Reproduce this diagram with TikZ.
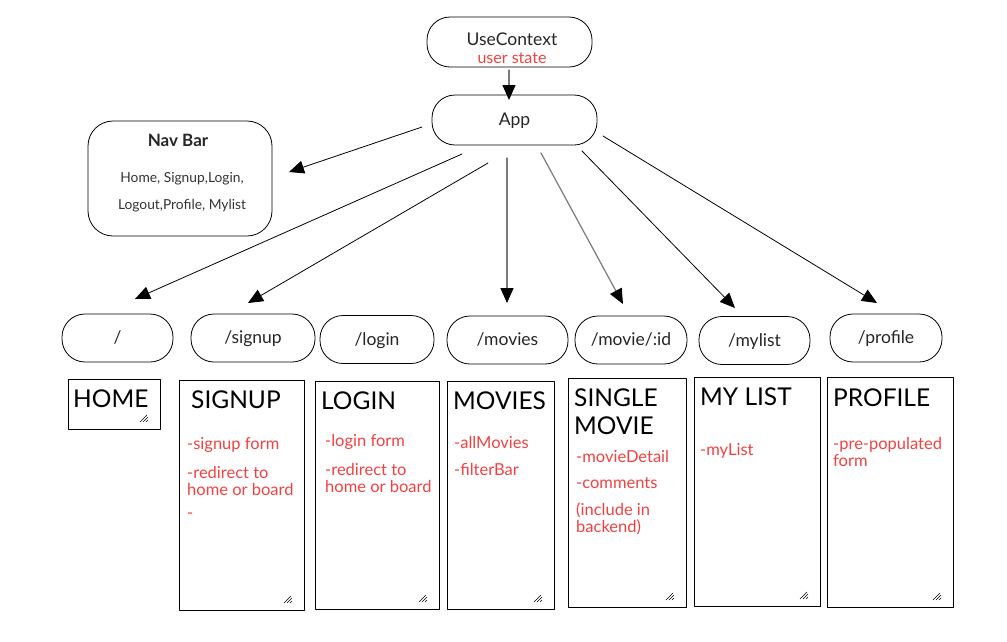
\documentclass[tikz,border=0pt]{standalone}
\usepackage{fontspec}
\setmainfont{Lato}
\usetikzlibrary{arrows.meta,positioning}
\definecolor{notered}{HTML}{F24141}
\definecolor{linkgray}{HTML}{7A7A7A}
\tikzset{
  pill/.style={draw,line width=0.8pt,rounded corners=23pt,minimum height=48pt,
    font=\fontsize{17.5}{19}\selectfont,text=black!85,text depth=1.5pt},
  page/.style={draw,line width=1pt,anchor=north west,inner sep=0pt},
  title/.style={anchor=west,inner sep=0pt,align=left,font=\fontsize{24.5}{28}\selectfont},
  note/.style={anchor=west,inner sep=0pt,align=left,text=notered,font=\fontsize{16.5}{17}\selectfont},
  navtext/.style={font=\fontsize{13.8}{14}\selectfont,text=black!80},
  link/.style={line width=0.8pt,-{Triangle[length=15pt,width=13pt,color=black]}},
  grip/.pic={\draw[line width=0.6pt] (-21,-8)--(-14,-15) (-18,-8)--(-13,-13) (-15,-8)--(-13,-10);}
}
\begin{document}
\begin{tikzpicture}[x=1pt,y=-1pt,line cap=round,line join=round]
  \useasboundingbox (0,0) rectangle (1007,641);
  % context and app
  \node[pill,minimum width=165pt,minimum height=50pt] (ctx) at (509.5,42) {};
  \node[align=center,inner sep=0pt,font=\fontsize{17.5}{18}\selectfont,text=black!85] (ctxlabel) at (512,48)
    {UseContext\\{\color{notered}\fontsize{16}{16}\selectfont user state}};
  \node[pill,minimum width=165pt,minimum height=50pt] (app) at (514.5,120) {App};
  % nav bar
  \node[draw,line width=0.8pt,rounded corners=25pt,minimum width=184pt,minimum height=115pt] (nav) at (180,178.5) {};
  \node[font=\fontsize{17}{17}\selectfont\bfseries,text=black!85] (navtitle) at (178,140) {Nav Bar};
  \node[navtext] (navline1) at (182,179) {Home, Signup,Login,};
  \node[navtext] (navline2) at (182,206) {Logout,Profile, Mylist};
  % routes
  \node[pill,minimum width=111pt] (home) at (117.5,338) {/};
  \node[pill,minimum width=124pt] (signup) at (253,338) {/signup};
  \node[pill,minimum width=114pt] (login) at (377,339.5) {/login};
  \node[pill,minimum width=121pt] (movies) at (507.5,340) {/movies};
  \node[pill,minimum width=112pt] (movie) at (631,340) {/movie/:id};
  \node[pill,minimum width=111pt] (mylist) at (754.5,340.5) {/mylist};
  \node[pill,minimum width=112pt] (profile) at (886,338) {/profile};
  % arrow ends
  \coordinate (ctxout) at (509,70);
  \coordinate (appin) at (509,100);
  \coordinate (navout) at (422,127);
  \coordinate (navin) at (289,172);
  \coordinate (homeout) at (462,154);
  \coordinate (homein) at (135,299);
  \coordinate (signupout) at (488,163);
  \coordinate (signupin) at (248,303);
  \coordinate (moviesout) at (507,158);
  \coordinate (moviesin) at (507,303);
  \coordinate (movieout) at (541,153);
  \coordinate (moviein) at (623,304);
  \coordinate (mylistout) at (582,151);
  \coordinate (mylistin) at (735,308);
  \coordinate (profileout) at (603,136);
  \coordinate (profilein) at (877,303);
  \draw[link,draw=linkgray,line width=1.2pt] (ctxout) -- (appin);
  \draw[link] (navout) -- (navin);
  \draw[link] (homeout) -- (homein);
  \draw[link] (signupout) -- (signupin);
  \draw[link,draw=linkgray,line width=1.2pt] (moviesout) -- (moviesin);
  \draw[link,draw=linkgray,line width=1.2pt] (movieout) -- (moviein);
  \draw[link] (mylistout) -- (mylistin);
  \draw[link] (profileout) -- (profilein);
  % pages
  \node[page,minimum width=92pt,minimum height=50pt] (homepage) at (68,379) {};
  \node[page,minimum width=125pt,minimum height=230pt] (signuppage) at (179,380) {};
  \node[page,minimum width=124pt,minimum height=228pt] (loginpage) at (315,381) {};
  \node[page,minimum width=107pt,minimum height=228pt] (moviespage) at (447,381) {};
  \node[page,minimum width=118pt,minimum height=229pt] (moviepage) at (568,378) {};
  \node[page,minimum width=126pt,minimum height=229pt] (mylistpage) at (694,377) {};
  \node[page,minimum width=126pt,minimum height=230pt] (profilepage) at (827,377) {};
  \foreach \p in {homepage,signuppage,loginpage,moviespage,moviepage,mylistpage,profilepage}
    \pic at (\p.south east) {grip};
  % page texts
  \node[title] (hometitle) at (73,399) {HOME};
  \node[title] (signuptitle) at (191,400) {SIGNUP};
  \node[note] (signupform) at (187,445) {-signup form};
  \node[note] (signupredirect) at (187,480.5) {-redirect to\\home or board};
  \node[note] (signupdash) at (187,516) {-};
  \node[title] (logintitle) at (321,401) {LOGIN};
  \node[note] (loginform) at (325,442) {-login form};
  \node[note] (loginredirect) at (325,477.5) {-redirect to\\home or board};
  \node[title] (moviestitle) at (453,401) {MOVIES};
  \node[note] (allmovies) at (454,442) {-allMovies};
  \node[note] (filterbar) at (454,469) {-filterBar};
  \node[title] (movietitle) at (574,412) {SINGLE\\MOVIE};
  \node[note] (moviedetail) at (576,456) {-movieDetail};
  \node[note] (comments) at (576,483) {-comments};
  \node[note] (backend) at (576,518.5) {(include in\\backend)};
  \node[title] (mylisttitle) at (700,397) {MY LIST};
  \node[note] (mylistitem) at (700,451) {-myList};
  \node[title] (profiletitle) at (833,398) {PROFILE};
  \node[note] (prefilled) at (833,451.5) {-pre-populated\\form};
\end{tikzpicture}
\end{document}
